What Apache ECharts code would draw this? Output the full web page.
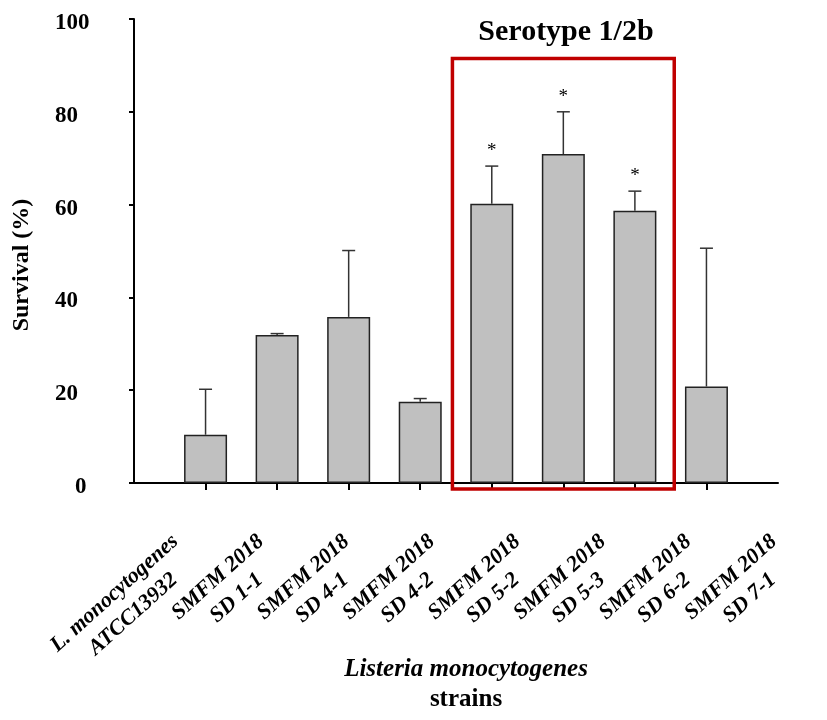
<!DOCTYPE html>
<html><head><meta charset="utf-8">
<script src="https://cdn.jsdelivr.net/npm/echarts@6/dist/echarts.min.js"></script>
<style>html,body{margin:0;padding:0;background:#fff}#c{width:827px;height:720px}</style>
</head><body><div id="c"></div>
<script>
const categories = ['L. monocytogenes\nATCC13932', 'SMFM 2018\nSD 1-1', 'SMFM 2018\nSD 4-1', 'SMFM 2018\nSD 4-2', 'SMFM 2018\nSD 5-2', 'SMFM 2018\nSD 5-3', 'SMFM 2018\nSD 6-2', 'SMFM 2018\nSD 7-1'];
const survival = [10.4, 31.9, 35.8, 17.5, 60.2, 70.9, 58.7, 20.8];
const sd = [9.8, 0.3, 14.3, 0.7, 8.1, 9.1, 4.2, 29.8];
const significance = ['', '', '', '', '*', '*', '*', ''];
const yTicks = [0, 20, 40, 60, 80, 100];
const positions = [1, 2, 3, 4, 5, 6, 7, 8];
const serotypeLabel = 'Serotype 1/2b';
const serotypeBox = [4.45, 7.55, -1.3, 91.5];

const F = '"Liberation Serif","Times New Roman",serif';
const chart = echarts.init(document.getElementById('c'));
const barData = survival.map((v, i) => [positions[i], v]);
const errData = survival.map((v, i) => [positions[i], v, sd[i], i]);

const option = {
  animation: false,
  title: [{
    text: serotypeLabel, left: 561, top: 12, textAlign: 'center',
    textStyle: { fontFamily: F, fontSize: 30, fontWeight: 'bold', color: '#000', lineHeight: 30 }
  }],
  grid: [
    { left: 134, top: 19, right: 49, bottom: 237 },
    { left: 142, width: 684, top: 19, bottom: 237 }
  ],
  xAxis: [
    {
      type: 'value', gridIndex: 0, min: 0, max: 9, interval: 1,
      axisLine: { show: true, lineStyle: { color: '#000', width: 2 } },
      axisTick: { show: true, customValues: positions, length: 7, lineStyle: { color: '#000', width: 2 } },
      axisLabel: { show: false }, splitLine: { show: false },
      name: '{i|Listeria monocytogenes}\n{s|strains}', nameLocation: 'middle', nameGap: 172,
      nameTextStyle: {
        padding: [0, 0, 0, 20],
        rich: {
          i: { fontFamily: F, fontSize: 25, fontWeight: 'bold', fontStyle: 'italic', color: '#000', lineHeight: 30, align: 'center' },
          s: { fontFamily: F, fontSize: 25, fontWeight: 'bold', color: '#000', lineHeight: 30, align: 'center' }
        }
      }
    },
    {
      type: 'category', gridIndex: 1, data: categories,
      axisLine: { show: false }, axisTick: { show: false }, splitLine: { show: false },
      axisLabel: {
        interval: 0, rotate: 42, margin: 66,
        fontFamily: F, fontSize: 22, fontWeight: 'bold', fontStyle: 'italic', color: '#000',
        formatter: v => v.split('\n').map(s => '{c|' + s + '}').join('\n'),
        rich: { c: { fontFamily: F, fontSize: 22, fontWeight: 'bold', fontStyle: 'italic', color: '#000', lineHeight: 28, align: 'center' } }
      }
    }
  ],
  yAxis: [
    {
      type: 'value', gridIndex: 0, min: yTicks[0], max: yTicks[yTicks.length - 1], interval: yTicks[1] - yTicks[0],
      axisLine: { show: true, lineStyle: { color: '#000', width: 2 } },
      axisTick: { show: true, length: 5, lineStyle: { color: '#000', width: 2 } },
      splitLine: { show: false },
      axisLabel: {
        align: 'left', margin: 79,
        fontFamily: F, fontSize: 23, fontWeight: 'bold', color: '#000',
        formatter: v => v === 0 ? '{z|0}' : '{n|' + v + '}',
        rich: {
          n: { fontFamily: F, fontSize: 23, fontWeight: 'bold', color: '#000', padding: [8, 0, 0, 0] },
          z: { fontFamily: F, fontSize: 23, fontWeight: 'bold', color: '#000', padding: [8, 0, 0, 20] }
        }
      },
      name: 'Survival (%)', nameLocation: 'middle', nameGap: 100, nameRotate: 90,
      nameTextStyle: { fontFamily: F, fontSize: 24, fontWeight: 'bold', color: '#000', padding: [0, 28, 0, 0] }
    },
    { type: 'value', gridIndex: 1, show: false }
  ],
  series: [
    {
      type: 'bar', xAxisIndex: 0, yAxisIndex: 0, data: barData, barWidth: 43,
      itemStyle: { color: '#c0c0c0', borderColor: '#222', borderWidth: 1.5 }
    },
    {
      type: 'custom', xAxisIndex: 0, yAxisIndex: 0, data: errData,
      encode: { x: 0, y: 1 }, z: 3,
      renderItem: (params, api) => {
        const x = api.value(0), m = api.value(1), e = api.value(2), i = api.value(3);
        const p0 = api.coord([x, m]);
        const p1 = api.coord([x, m + e]);
        const st = { stroke: '#333', lineWidth: 1.5 };
        const ch = [
          { type: 'line', shape: { x1: p0[0], y1: p0[1], x2: p1[0], y2: p1[1] }, style: st },
          { type: 'line', shape: { x1: p1[0] - 6.5, y1: p1[1], x2: p1[0] + 6.5, y2: p1[1] }, style: st }
        ];
        if (significance[i]) {
          ch.push({ type: 'text', x: p1[0], y: p1[1] - 15,
            style: { text: significance[i], align: 'center', verticalAlign: 'middle', fontFamily: F, fontSize: 19, fill: '#000' } });
        }
        return { type: 'group', children: ch };
      }
    },
    {
      type: 'custom', xAxisIndex: 0, yAxisIndex: 0, data: [serotypeBox],
      encode: { x: [0, 1], y: [2, 3] }, z: 4, clip: false,
      renderItem: (params, api) => {
        const a = api.coord([api.value(0), api.value(3)]);
        const b = api.coord([api.value(1), api.value(2)]);
        return { type: 'rect', shape: { x: a[0], y: a[1], width: b[0] - a[0], height: b[1] - a[1] },
          style: { fill: 'none', stroke: '#c00000', lineWidth: 3.5 } };
      }
    }
  ]
};
chart.setOption(option);
</script></body></html>
